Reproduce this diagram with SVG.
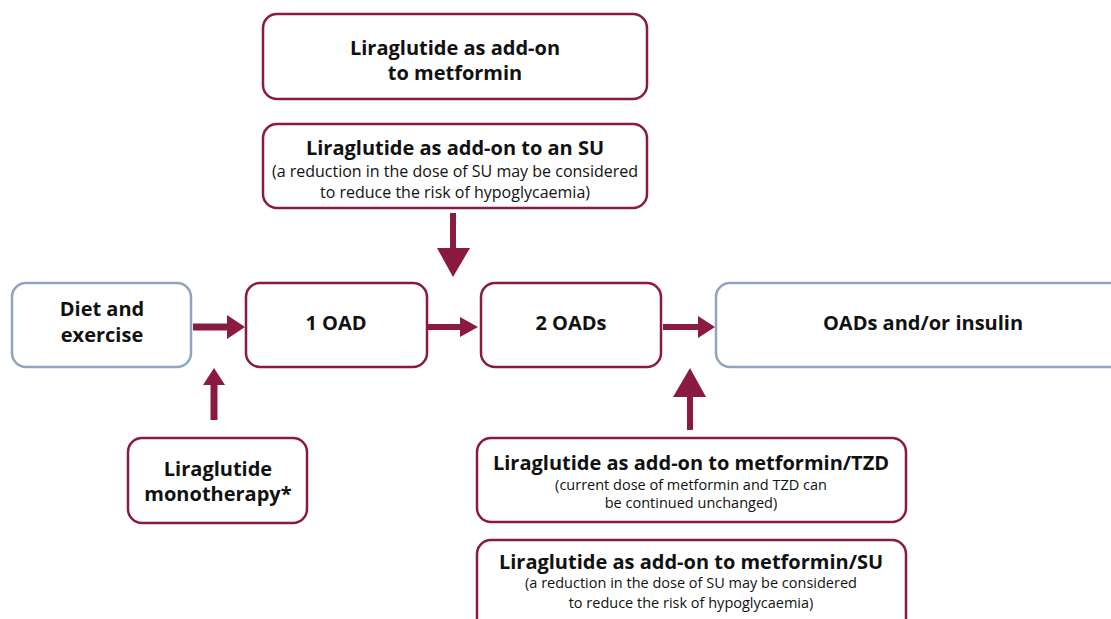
<svg xmlns="http://www.w3.org/2000/svg" width="1111" height="619" viewBox="0 0 1111 619">
<style>
.m{fill:#fff;stroke:#8a1a40;stroke-width:2.5}
.b{fill:#fff;stroke:#8fa3c2;stroke-width:2.5}
text{font-family:"Open Sans","Noto Sans",sans-serif;fill:#111;text-anchor:middle}
.t{font-weight:bold;font-size:20px}
.s{font-size:14.5px}
.sl{font-size:16px}
.c{fill:none;stroke:#8a1a40}
.h{fill:#8a1a40}
</style>
<rect width="1111" height="619" fill="#fff"/>
<g id="top1"><rect class="m" x="263" y="14" width="384" height="85" rx="14"/>
<text class="t" x="455" y="55">Liraglutide as add-on</text><text class="t" x="455" y="80">to metformin</text></g>
<g id="top2"><rect class="m" x="263" y="124" width="384" height="84" rx="14"/>
<text class="t" x="455" y="155">Liraglutide as add-on to an SU</text>
<text class="sl" x="455" y="177">(a reduction in the dose of SU may be considered</text>
<text class="sl" x="455" y="198">to reduce the risk of hypoglycaemia)</text></g>
<g id="diet"><rect class="b" x="12" y="283" width="179" height="84" rx="14"/>
<text class="t" x="102" y="316">Diet and</text><text class="t" x="102" y="342">exercise</text></g>
<g id="oad1"><rect class="m" x="246" y="283" width="181" height="84" rx="14"/>
<text class="t" x="336" y="330">1 OAD</text></g>
<g id="oad2"><rect class="m" x="481" y="283" width="180" height="84" rx="14"/>
<text class="t" x="571" y="330">2 OADs</text></g>
<g id="oads"><rect class="b" x="716" y="283" width="410" height="84" rx="14"/>
<text class="t" x="923" y="330">OADs and/or insulin</text></g>
<g id="mono"><rect class="m" x="128" y="438" width="179" height="85" rx="14"/>
<text class="t" x="218" y="476">Liraglutide</text><text class="t" x="218" y="501">monotherapy*</text></g>
<g id="tzd"><rect class="m" x="477" y="438" width="429" height="84" rx="14"/>
<text class="t" x="691" y="470">Liraglutide as add-on to metformin/TZD</text>
<text class="s" x="691" y="490">(current dose of metformin and TZD can</text>
<text class="s" x="691" y="508">be continued unchanged)</text></g>
<g id="su"><rect class="m" x="477" y="540" width="429" height="100" rx="14"/>
<text class="t" x="691" y="569">Liraglutide as add-on to metformin/SU</text>
<text class="s" x="691" y="588">(a reduction in the dose of SU may be considered</text>
<text class="s" x="691" y="608">to reduce the risk of hypoglycaemia)</text></g>
<g id="connectors">
<line class="c" x1="193" y1="327" x2="229" y2="327" stroke-width="7"/><polygon class="h" points="227,315 245,327 227,339"/>
<line class="c" x1="428" y1="327" x2="462" y2="327" stroke-width="6"/><polygon class="h" points="460,317 478,327 460,337"/>
<line class="c" x1="663" y1="327" x2="700" y2="327" stroke-width="6"/><polygon class="h" points="698,316 715,327 698,338"/>
<line class="c" x1="453" y1="213" x2="453" y2="250" stroke-width="6"/><polygon class="h" points="437,248 470,248 453,277"/>
<line class="c" x1="690" y1="430" x2="690" y2="395" stroke-width="6"/><polygon class="h" points="673,397 706,397 690,368"/>
<line class="c" x1="214" y1="420" x2="214" y2="383" stroke-width="7"/><polygon class="h" points="203,385 225,385 214,368"/>
</g>
</svg>
